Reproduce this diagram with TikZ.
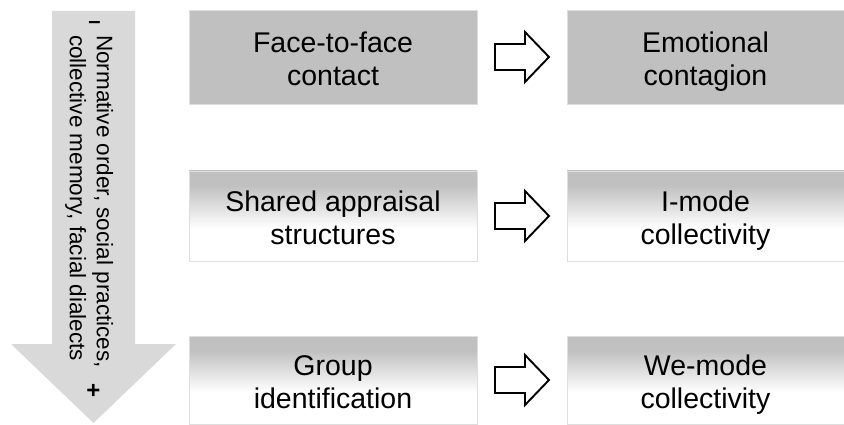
\documentclass[tikz,border=0pt]{standalone}
\usepackage{fontspec}
\setmainfont{Liberation Sans}
\usetikzlibrary{calc}

\definecolor{boxgray}{RGB}{192,192,192}
\definecolor{edgegray}{RGB}{222,222,222}
\definecolor{arrowgray}{RGB}{217,217,217}

% gray at the top fading to white in the lower half
\pgfdeclareverticalshading{graytowhite}{100bp}{%
  color(0bp)=(white); color(25bp)=(white); color(43bp)=(white);
  color(67bp)=(boxgray); color(75bp)=(boxgray); color(100bp)=(boxgray)}

% two centred lines with fixed height and depth, so every box
% puts its baselines at the same place whatever the letters
\newcommand\twolines[2]{\rule{0pt}{29pt}#1\\#2\vphantom{g}}

\begin{document}
\begin{tikzpicture}[x=1pt,y=-1pt,
  label/.style={inner sep=0pt, align=center, text=black,
    font=\fontsize{28.5}{33}\selectfont},
  solidbox/.style={label, fill=boxgray, draw=edgegray, line width=0.8pt},
  fadebox/.style={label, shading=graytowhite, draw=edgegray, line width=0.8pt},
  leftcol/.style={minimum width=288pt},
  rightcol/.style={minimum width=277pt},
  hollowarrow/.pic={
    \draw[line width=1.9pt, fill=white, line join=miter]
      (-27,-13) -- (3,-13) -- (3,-25) -- (27,0) -- (3,25) -- (3,13) -- (-27,13) -- cycle;
  },
  sign/.style={inner sep=0pt, anchor=base, font=\bfseries\fontsize{22}{22}\selectfont}
]
\useasboundingbox (0,0) rectangle (844,425);

% the broad downward arrow on the left
\draw[fill=arrowgray, draw=none]
  (52,11) -- (135,11) -- (135,344) -- (176,344) -- (93.5,423)
  -- (11,344) -- (52,344) -- cycle;
\node[rotate=-90, anchor=north west, inner sep=0pt, align=left,
      font=\fontsize{22.5}{27}\selectfont] (norms) at (113.5,35)
  {Normative order, social practices,\\collective memory, facial dialects};
\node[sign] (minus) at (94.5,28.8) {–};
\node[sign, font=\bfseries\fontsize{24}{24}\selectfont] (plus) at (93.5,398.5) {+};

% row 1
\node[solidbox, leftcol, minimum height=94pt] (face) at (333,57)
  {\twolines{Face-to-face}{contact}};
\node[solidbox, rightcol, minimum height=94pt] (contagion) at (705.5,57)
  {\twolines{Emotional}{contagion}};

% row 2
\node[fadebox, leftcol, minimum height=90pt] (appraisal) at (333,216)
  {\twolines{Shared appraisal}{structures}};
\node[fadebox, rightcol, minimum height=90pt] (imode) at (705.5,216)
  {\twolines{I-mode}{collectivity}};

% row 3
\node[fadebox, leftcol, minimum height=88pt] (group) at (333,380)
  {\twolines{Group}{identification}};
\node[fadebox, rightcol, minimum height=88pt] (wemode) at (705.5,380)
  {\twolines{We-mode}{collectivity}};

% hollow block arrows between the columns
\coordinate (m1) at ($(face.east)!0.5!(contagion.west)$);
\coordinate (m2) at ($(appraisal.east)!0.5!(imode.west)$);
\coordinate (m3) at ($(group.east)!0.5!(wemode.west)$);
\pic at (m1) {hollowarrow};
\pic at (m2) {hollowarrow};
\pic at (m3) {hollowarrow};
\end{tikzpicture}
\end{document}
